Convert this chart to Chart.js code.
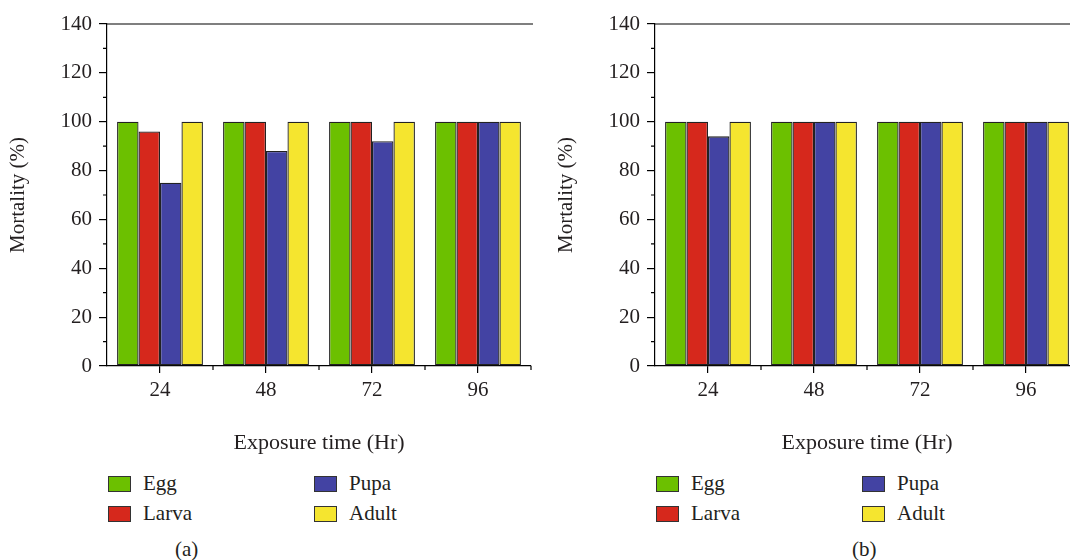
<!DOCTYPE html>
<html>
<head>
<meta charset="utf-8">
<script src="https://cdn.jsdelivr.net/npm/chart.js@4.4.1/dist/chart.umd.min.js"></script>
<style>
  html, body { margin: 0; padding: 0; background: #fff; overflow: hidden; }
  #page { position: relative; width: 1070px; height: 560px; overflow: hidden; font-family: "Liberation Serif", serif; color: #231f20; }
  .panel { position: absolute; top: 0; width: 545px; height: 560px; }
  .panel canvas { position: absolute; left: 0; top: 0; }
  .leg { position: absolute; font-size: 21px; line-height: 22px; }
  .leg .box { position: absolute; left: 0; top: 1px; width: 21px; height: 14px; border: 1px solid #333; }
  .leg .txt { position: absolute; left: 35px; top: -3px; white-space: nowrap; }
  .cap { position: absolute; top: 537px; font-size: 21px; }
</style>
</head>
<body>
<div id="page">
  <div class="panel" id="panelA" style="left:0px;"><div style="position:absolute;left:0;top:0;width:545px;height:460px;"><canvas id="chartA"></canvas></div></div>
  <div class="panel" id="panelB" style="left:548px;"><div style="position:absolute;left:0;top:0;width:545px;height:460px;"><canvas id="chartB"></canvas></div></div>
  <div class="cap" style="left:175px;">(a)</div>
  <div class="cap" style="left:852px;">(b)</div>
</div>
<script>
// exposure times (Hr) and life stages
var exposure = ['24', '48', '72', '96'];
var stages = ['Egg', 'Larva', 'Pupa', 'Adult'];
var stageColors = ['#6cc000', '#d6281c', '#4343a3', '#f5e52f'];

// panel (a) mortality (%)
var eggA = [100, 100, 100, 100];
var larvaA = [96, 100, 100, 100];
var pupaA = [75, 88, 92, 100];
var adultA = [100, 100, 100, 100];

// panel (b) mortality (%)
var eggB = [100, 100, 100, 100];
var larvaB = [100, 100, 100, 100];
var pupaB = [94, 100, 100, 100];
var adultB = [100, 100, 100, 100];

var yMax = 140;
var yStep = 20;

var FONT = "'Liberation Serif', serif";
var INK = '#231f20';

// top frame line + minor ticks on both axes
var extraTicks = {
    id: 'extraTicks',
    afterDraw: function (chart) {
        var ctx = chart.ctx;
        var area = chart.chartArea;
        var x = chart.scales.x;
        var y = chart.scales.y;
        ctx.save();
        ctx.strokeStyle = '#000';
        ctx.lineWidth = 1.2;
        ctx.beginPath();
        ctx.moveTo(area.left, area.top);
        ctx.lineTo(area.right + 2, area.top);
        // minor y ticks
        for (var v = yStep / 2; v < yMax; v += yStep) {
            var py = y.getPixelForValue(v);
            ctx.moveTo(area.left, py);
            ctx.lineTo(area.left - 4, py);
        }
        // minor x ticks at category boundaries
        var n = exposure.length;
        for (var i = 1; i <= n; i++) {
            var px = i < n ? (x.getPixelForTick(i - 1) + x.getPixelForTick(i)) / 2
                           : x.getPixelForTick(n - 1) + (x.getPixelForTick(n - 1) - x.getPixelForTick(n - 2)) / 2;
            ctx.moveTo(px, area.bottom);
            ctx.lineTo(px, area.bottom + 4);
        }
        ctx.stroke();
        ctx.restore();
    }
};

function makeChart(id, seriesList) {
    var ctx = document.getElementById(id).getContext('2d');
    return new Chart(ctx, {
        type: 'bar',
        data: {
            labels: exposure,
            datasets: stages.map(function (s, i) {
                return {
                    label: s,
                    data: seriesList[i],
                    backgroundColor: stageColors[i],
                    borderColor: '#222',
                    borderWidth: 1.3,
                    borderSkipped: false,
                    barPercentage: 1.0,
                    categoryPercentage: 0.81
                };
            })
        },
        options: {
            responsive: true,
            maintainAspectRatio: false,
            animation: false,
            layout: { padding: { left: 0, right: 14, top: 24, bottom: 0 } },
            plugins: { legend: { display: false }, tooltip: { enabled: false } },
            scales: {
                x: {
                    grid: { display: true, drawOnChartArea: false, offset: false, tickLength: 7, color: '#000', lineWidth: 1.2 },
                    border: { display: true, color: '#000', width: 1.2 },
                    ticks: { color: INK, font: { family: FONT, size: 21 }, padding: 5 },
                    title: { display: true, text: 'Exposure time (Hr)', color: INK, font: { family: FONT, size: 22 }, padding: { top: 13 } },
                    afterFit: function (s) { s.height = 94; }
                },
                y: {
                    min: 0,
                    max: yMax,
                    grid: { display: true, drawOnChartArea: false, tickLength: 8, color: '#000', lineWidth: 1.2 },
                    border: { display: true, color: '#000', width: 1.2 },
                    ticks: { stepSize: yStep, color: INK, font: { family: FONT, size: 21 }, padding: 7 },
                    title: { display: true, text: 'Mortality (%)', color: INK, font: { family: FONT, size: 21 }, padding: { top: 6, bottom: 0 } },
                    afterFit: function (s) { s.width = 107; }
                }
            }
        },
        plugins: [extraTicks]
    });
}

function makeLegend(panelId) {
    var panel = document.getElementById(panelId);
    var spots = [[108, 475], [108, 505], [314, 475], [314, 505]];
    stages.forEach(function (s, i) {
        var d = document.createElement('div');
        d.className = 'leg';
        d.style.left = spots[i][0] + 'px';
        d.style.top = spots[i][1] + 'px';
        d.innerHTML = '<div class="box" style="background:' + stageColors[i] + '"></div><div class="txt">' + s + '</div>';
        panel.appendChild(d);
    });
}

makeChart('chartA', [eggA, larvaA, pupaA, adultA]);
makeChart('chartB', [eggB, larvaB, pupaB, adultB]);
makeLegend('panelA');
makeLegend('panelB');
</script>
</body>
</html>
